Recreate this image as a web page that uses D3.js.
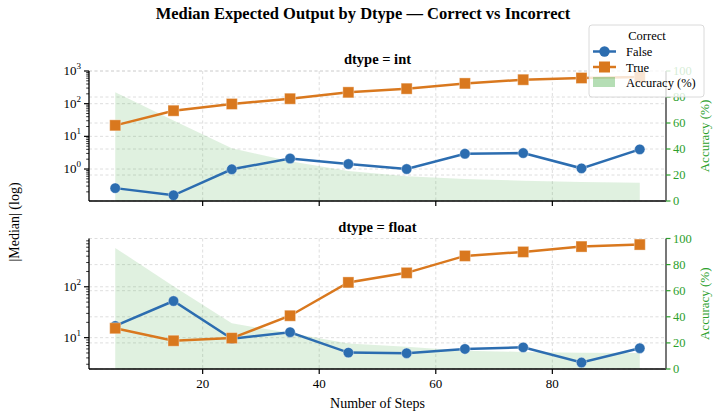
<!DOCTYPE html>
<html lang="en">
<head>
<meta charset="utf-8">
<title>Median Expected Output by Dtype</title>
<script src="https://cdn.jsdelivr.net/npm/d3@7"></script>
<style>
  body { margin: 0; background: #fff; }
  text { font-family: "Liberation Serif", "DejaVu Serif", serif; }
</style>
</head>
<body>
<script>
/* data */
var steps = [5, 15, 25, 35, 45, 55, 65, 75, 85, 95];
var intFalse = [0.26, 0.157, 0.98, 2.1, 1.42, 1.0, 2.94, 3.08, 1.05, 4.0];
var intTrue = [21.7, 61, 98, 142, 222, 288, 417, 542, 611, 650];
var intAcc = [83.6, 62, 40.5, 30.5, 23, 19, 17, 15.6, 14.6, 14.1];
var floatFalse = [17, 52.5, 9.5, 12.8, 5.08, 4.94, 6.0, 6.45, 3.24, 6.2];
var floatTrue = [15.3, 8.7, 9.8, 27, 122, 188, 405, 485, 617, 676];
var floatAcc = [92.8, 63.5, 35, 27.5, 19.6, 17, 14, 13.1, 12.4, 12.3];
var accTicks = [0, 20, 40, 60, 80, 100];
var xTicks = [20, 40, 60, 80];

var blue = "#2c6db0", orange = "#d9781e", green = "#2ca02c";

var W = 717, H = 418;
var left = 89, right = 666;

var svg = d3.select("body").append("svg")
  .attr("width", W).attr("height", H);

var x = d3.scaleLinear().domain([0.5, 99.5]).range([left, right]);

/* one panel per dtype */
var panels = [
  {name: "int", top: 71, bottom: 201, dom: [0.105, 1000], f: intFalse, t: intTrue, acc: intAcc, labels: false},
  {name: "float", top: 238.5, bottom: 369, dom: [2.42, 890], f: floatFalse, t: floatTrue, acc: floatAcc, labels: true}
];

panels.forEach(function(p) {
  var y = d3.scaleLog().domain(p.dom).range([p.bottom, p.top]);
  var y2 = d3.scaleLinear().domain([0, 100]).range([p.bottom, p.top]);
  var g = svg.append("g");

  /* log ticks */
  var lo = Math.floor(Math.log10(p.dom[0])), hi = Math.ceil(Math.log10(p.dom[1]));
  var majors = [], minors = [];
  for (var e = lo; e <= hi; e++) {
    var v = Math.pow(10, e);
    if (v >= p.dom[0] && v <= p.dom[1] * 1.0001) majors.push(e);
    for (var m = 2; m < 10; m++) {
      var mv = m * v;
      if (mv >= p.dom[0] && mv <= p.dom[1]) minors.push(mv);
    }
  }

  /* grids: x, left log and right accuracy */
  var grid = g.append("g")
    .attr("stroke", "#d5d5d5").attr("stroke-width", 0.8)
    .attr("stroke-dasharray", "3,2.5");
  xTicks.forEach(function(t) {
    grid.append("line").attr("x1", x(t)).attr("x2", x(t)).attr("y1", p.top).attr("y2", p.bottom);
  });
  majors.forEach(function(e) {
    var yy = y(Math.pow(10, e));
    grid.append("line").attr("x1", left).attr("x2", right).attr("y1", yy).attr("y2", yy);
  });
  accTicks.forEach(function(t) {
    grid.append("line").attr("x1", left).attr("x2", right).attr("y1", y2(t)).attr("y2", y2(t));
  });

  /* accuracy area */
  var area = d3.area()
    .x(function(d, i) { return x(steps[i]); })
    .y0(y2(0))
    .y1(function(d) { return y2(d); });
  g.append("path").datum(p.acc)
    .attr("d", area)
    .attr("fill", green).attr("fill-opacity", 0.15);

  /* series lines */
  var line = d3.line()
    .x(function(d, i) { return x(steps[i]); })
    .y(function(d) { return y(d); });
  g.append("path").datum(p.f).attr("d", line)
    .attr("fill", "none").attr("stroke", blue).attr("stroke-width", 2.5);
  g.append("path").datum(p.t).attr("d", line)
    .attr("fill", "none").attr("stroke", orange).attr("stroke-width", 2.5);

  g.selectAll(".dot").data(p.f).enter().append("circle")
    .attr("cx", function(d, i) { return x(steps[i]); })
    .attr("cy", function(d) { return y(d); })
    .attr("r", 5.2)
    .attr("fill", blue).attr("stroke", "#fff").attr("stroke-opacity", 0.35).attr("stroke-width", 1);
  g.selectAll(".sq").data(p.t).enter().append("rect")
    .attr("x", function(d, i) { return x(steps[i]) - 5.5; })
    .attr("y", function(d) { return y(d) - 5.5; })
    .attr("width", 11).attr("height", 11)
    .attr("fill", orange).attr("stroke", "#fff").attr("stroke-opacity", 0.35).attr("stroke-width", 1);

  /* left axis */
  var ax = g.append("g").attr("stroke", "#000");
  ax.append("line").attr("x1", left).attr("x2", left).attr("y1", p.top).attr("y2", p.bottom).attr("stroke-width", 1.3);
  majors.forEach(function(e) {
    var yy = y(Math.pow(10, e));
    ax.append("line").attr("x1", left - 5).attr("x2", left).attr("y1", yy).attr("y2", yy).attr("stroke-width", 1.2);
    var t = g.append("text").attr("x", left - 8).attr("y", yy + 4)
      .attr("text-anchor", "end").style("font-size", "13px").attr("fill", "#000");
    t.append("tspan").text("10");
    t.append("tspan").attr("dy", -6).style("font-size", "9px").text(e);
  });
  minors.forEach(function(v) {
    ax.append("line").attr("x1", left - 2.8).attr("x2", left).attr("y1", y(v)).attr("y2", y(v)).attr("stroke-width", 0.8);
  });

  /* bottom axis */
  ax.append("line").attr("x1", left).attr("x2", right).attr("y1", p.bottom).attr("y2", p.bottom).attr("stroke-width", 1.3);
  xTicks.forEach(function(t) {
    ax.append("line").attr("x1", x(t)).attr("x2", x(t)).attr("y1", p.bottom).attr("y2", p.bottom + 5).attr("stroke-width", 1.2);
    if (p.labels) {
      g.append("text").attr("x", x(t)).attr("y", p.bottom + 19)
        .attr("text-anchor", "middle").style("font-size", "13px").text(t);
    }
  });

  /* right accuracy axis */
  g.append("line").attr("x1", right).attr("x2", right).attr("y1", p.top).attr("y2", p.bottom)
    .attr("stroke", "#555").attr("stroke-width", 1.6);
  accTicks.forEach(function(t) {
    g.append("line").attr("x1", right).attr("x2", right + 4.5).attr("y1", y2(t)).attr("y2", y2(t))
      .attr("stroke", green).attr("stroke-width", 1.2);
    g.append("text").attr("x", right + 7).attr("y", y2(t) + 4.3)
      .style("font-size", "12.5px").attr("fill", green).text(t);
  });
  g.append("text")
    .attr("transform", "translate(709," + ((p.top + p.bottom) / 2) + ") rotate(-90)")
    .attr("text-anchor", "middle").style("font-size", "13px").attr("fill", green)
    .text("Accuracy (%)");

  /* panel title */
  g.append("text").attr("x", (left + right) / 2).attr("y", p.top - 7)
    .attr("text-anchor", "middle").style("font-size", "14.5px").style("font-weight", "bold")
    .text("dtype = " + p.name);
});

/* figure title and labels */
svg.append("text").attr("x", 363).attr("y", 19)
  .attr("text-anchor", "middle").style("font-size", "16.5px").style("font-weight", "bold")
  .text("Median Expected Output by Dtype \u2014 Correct vs Incorrect");
svg.append("text").attr("x", (left + right) / 2).attr("y", 408)
  .attr("text-anchor", "middle").style("font-size", "14px").text("Number of Steps");
svg.append("text")
  .attr("transform", "translate(19,222) rotate(-90)")
  .attr("text-anchor", "middle").style("font-size", "14px").text("|Median| (log)");

/* legend */
var lg = svg.append("g").attr("transform", "translate(589,25)");
lg.append("rect").attr("width", 115).attr("height", 72).attr("rx", 3)
  .attr("fill", "#fff").attr("fill-opacity", 0.8).attr("stroke", "#d0d0d0").attr("stroke-width", 0.8);
lg.append("text").attr("x", 58).attr("y", 15).attr("text-anchor", "middle")
  .style("font-size", "12.5px").text("Correct");
lg.append("line").attr("x1", 4).attr("x2", 27).attr("y1", 26.5).attr("y2", 26.5)
  .attr("stroke", blue).attr("stroke-width", 2.5);
lg.append("circle").attr("cx", 15.5).attr("cy", 26.5).attr("r", 5.2).attr("fill", blue);
lg.append("text").attr("x", 37).attr("y", 31).style("font-size", "12.5px").text("False");
lg.append("line").attr("x1", 4).attr("x2", 27).attr("y1", 42).attr("y2", 42)
  .attr("stroke", orange).attr("stroke-width", 2.5);
lg.append("rect").attr("x", 10).attr("y", 36.5).attr("width", 11).attr("height", 11).attr("fill", orange);
lg.append("text").attr("x", 37).attr("y", 46.5).style("font-size", "12.5px").text("True");
lg.append("rect").attr("x", 4).attr("y", 52).attr("width", 22).attr("height", 10)
  .attr("fill", green).attr("fill-opacity", 0.35);
lg.append("text").attr("x", 37).attr("y", 62).style("font-size", "12.5px").text("Accuracy (%)");
</script>
</body>
</html>
